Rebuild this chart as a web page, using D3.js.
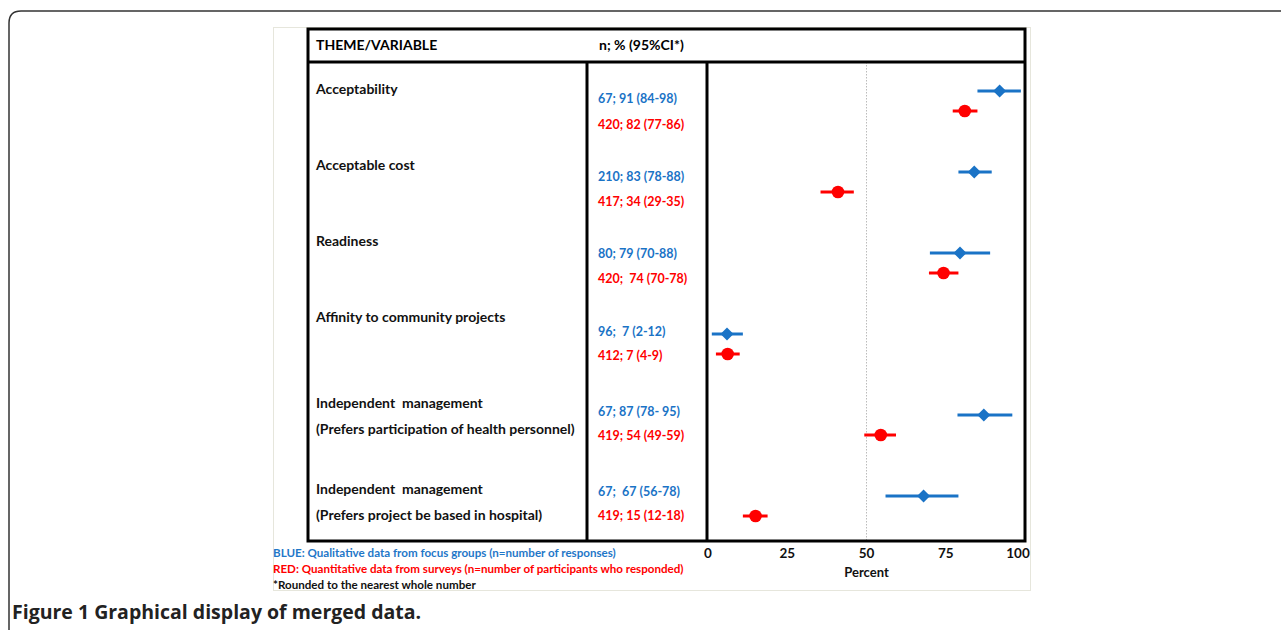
<!DOCTYPE html>
<html>
<head>
<meta charset="utf-8">
<script src="https://cdn.jsdelivr.net/npm/d3@7"></script>
<style>
  body { margin: 0; background: #fff; }
  svg text { font-family: Lato, "Open Sans", sans-serif; font-weight: bold; white-space: pre; }
</style>
</head>
<body>
<div id="viz"></div>
<script>
// rows of the figure, top to bottom
var themes = [
    ["Acceptability"],
    ["Acceptable cost"],
    ["Readiness"],
    ["Affinity to community projects"],
    ["Independent  management", "(Prefers participation of health personnel)"],
    ["Independent  management", "(Prefers project be based in hospital)"]
];
var blueLabels = ["67; 91 (84-98)", "210; 83 (78-88)", "80; 79 (70-88)", "96;  7 (2-12)", "67; 87 (78- 95)", "67;  67 (56-78)"];
var redLabels = ["420; 82 (77-86)", "417; 34 (29-35)", "420;  74 (70-78)", "412; 7 (4-9)", "419; 54 (49-59)", "419; 15 (12-18)"];

// plotted values
var blueEst = [92, 84, 79.5, 6, 87, 68];
var blueLo = [85, 79, 70, 1.2, 78.7, 56];
var blueHi = [98.7, 89.5, 89, 11, 96, 79];
var redEst = [81, 41, 74.3, 6.2, 54.5, 15];
var redLo = [77.2, 35.5, 69.7, 2.5, 49.3, 11];
var redHi = [85, 46, 79, 10, 59.3, 18.8];

var xTicks = [0, 25, 50, 75, 100];
var notes = [
    {text: "BLUE: Qualitative data from focus groups (n=number of responses)", color: "#1f77c8"},
    {text: "RED: Quantitative data from surveys (n=number of participants who responded)", color: "#ff0000"},
    {text: "*Rounded to the nearest whole number", color: "#111"}
];

var BLUE = "#1a73c6", RED = "#ff0000";

var svg = d3.select("#viz")
    .append("svg")
    .attr("width", 1281)
    .attr("height", 630);

// outer page frame with rounded corner
svg.append("path")
    .attr("d", "M9,700 L9,23 Q9,11 21,11 L1300,11")
    .style("fill", "none")
    .style("stroke", "#333")
    .style("stroke-width", 1.5);

// faint image border
svg.append("rect")
    .attr("x", 273.5).attr("y", 27.5)
    .attr("width", 757).attr("height", 563)
    .style("fill", "none")
    .style("stroke", "#e6e6dc");

var boxL = 308, midX = 587, plotL = 707, boxR = 1025;
var boxT = 29, headB = 62, boxB = 541;

var x = d3.scaleLinear().domain([0, 100]).range([708, 1025]);
var rowY = d3.scaleLinear().domain([0, 5]).range([91, 496]);
var themeY = d3.scaleLinear().domain([0, 3, 5]).range([89, 317, 489]);
var blueTextY = d3.scaleLinear().domain([0, 3, 5]).range([99, 332, 492]);
var redTextY = d3.scaleLinear().domain([0, 3, 5]).range([125, 356, 516]);

// dotted reference at 50
svg.append("line")
    .attr("x1", x(50)).attr("x2", x(50))
    .attr("y1", headB).attr("y2", boxB)
    .style("stroke", "#bbb")
    .style("stroke-dasharray", "1.5,1.5");

// table frame
var frame = svg.append("g")
    .style("fill", "none")
    .style("stroke", "#000")
    .style("stroke-width", 3);
frame.append("rect").attr("x", boxL).attr("y", boxT).attr("width", boxR - boxL).attr("height", boxB - boxT);
frame.append("line").attr("x1", boxL).attr("x2", boxR).attr("y1", headB).attr("y2", headB);
frame.append("line").attr("x1", midX).attr("x2", midX).attr("y1", headB).attr("y2", boxB);
frame.append("line").attr("x1", plotL).attr("x2", plotL).attr("y1", headB).attr("y2", boxB);

svg.append("text").attr("x", 316).attr("y", 50).style("font-size", "14px").text("THEME/VARIABLE");
svg.append("text").attr("x", 599).attr("y", 50).style("font-size", "14px").text("n; % (95%CI*)");

// theme labels
themes.forEach(function(lines, i) {
    lines.forEach(function(s, k) {
        svg.append("text")
            .attr("x", 316)
            .attr("y", themeY(i) + k * 26 + 5)
            .style("font-size", "14px")
            .style("fill", "#111")
            .text(s);
    });
});

svg.selectAll("text.blue")
    .data(blueLabels)
    .enter().append("text")
    .attr("class", "blue")
    .attr("x", 598)
    .attr("y", function(d, i) { return blueTextY(i) + 4; })
    .style("font-size", "12.5px")
    .style("fill", BLUE)
    .text(function(d) { return d; });

svg.selectAll("text.red")
    .data(redLabels)
    .enter().append("text")
    .attr("class", "red")
    .attr("x", 598)
    .attr("y", function(d, i) { return redTextY(i) + 4; })
    .style("font-size", "12.5px")
    .style("fill", RED)
    .text(function(d) { return d; });

// confidence intervals
var plot = svg.append("g");
plot.selectAll("line.bci")
    .data(blueEst)
    .enter().append("line")
    .attr("x1", function(d, i) { return x(blueLo[i]); })
    .attr("x2", function(d, i) { return x(blueHi[i]); })
    .attr("y1", function(d, i) { return rowY(i); })
    .attr("y2", function(d, i) { return rowY(i); })
    .style("stroke", BLUE)
    .style("stroke-width", 3);

plot.selectAll("line.rci")
    .data(redEst)
    .enter().append("line")
    .attr("x1", function(d, i) { return x(redLo[i]); })
    .attr("x2", function(d, i) { return x(redHi[i]); })
    .attr("y1", function(d, i) { return rowY(i) + 20; })
    .attr("y2", function(d, i) { return rowY(i) + 20; })
    .style("stroke", RED)
    .style("stroke-width", 3);

plot.selectAll("path.diamond")
    .data(blueEst)
    .enter().append("path")
    .attr("d", "M0,-6.5 L6.5,0 L0,6.5 L-6.5,0 Z")
    .attr("transform", function(d, i) { return "translate(" + x(d) + "," + rowY(i) + ")"; })
    .style("fill", BLUE);

plot.selectAll("circle")
    .data(redEst)
    .enter().append("circle")
    .attr("cx", function(d) { return x(d); })
    .attr("cy", function(d, i) { return rowY(i) + 20; })
    .attr("r", 6.3)
    .style("fill", RED);

// x axis labels
svg.selectAll("text.tick")
    .data(xTicks)
    .enter().append("text")
    .attr("class", "tick")
    .attr("x", function(d) { return d == 100 ? x(d) - 7 : x(d); })
    .attr("y", 558)
    .attr("text-anchor", "middle")
    .style("font-size", "13.5px")
    .style("fill", "#111")
    .text(function(d) { return d; });

svg.append("text")
    .attr("x", x(50)).attr("y", 577)
    .attr("text-anchor", "middle")
    .style("font-size", "13px")
    .style("fill", "#111")
    .text("Percent");

svg.selectAll("text.note")
    .data(notes)
    .enter().append("text")
    .attr("class", "note")
    .attr("x", 273)
    .attr("y", function(d, i) { return 557 + i * 16; })
    .style("font-size", "11.6px")
    .style("fill", function(d) { return d.color; })
    .text(function(d) { return d.text; });

svg.append("text")
    .attr("x", 12).attr("y", 619)
    .style("font-family", "'Open Sans', sans-serif")
    .style("font-size", "19.5px")
    .style("fill", "#222")
    .text("Figure 1 Graphical display of merged data.");
</script>
</body>
</html>
